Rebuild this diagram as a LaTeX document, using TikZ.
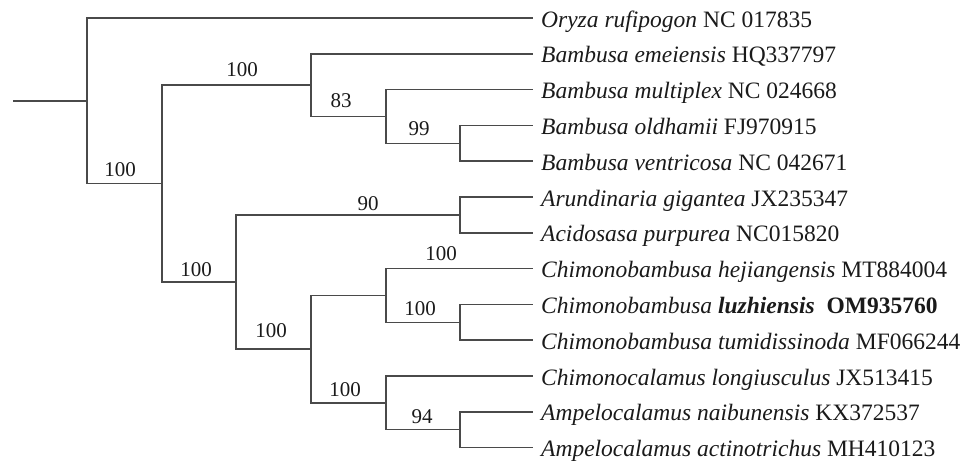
\documentclass[tikz,border=0pt]{standalone}
\usepackage{fontspec}
\setmainfont{Liberation Serif}
\definecolor{linegray}{HTML}{4A4A4A}
\definecolor{textblack}{HTML}{1A1A1A}
\begin{document}
\begin{tikzpicture}[x=1pt,y=-1pt,
  leaf/.style={anchor=west, inner xsep=8pt, inner ysep=0pt, text height=18pt, text depth=0pt,
    text=textblack, font=\fontsize{23.5}{28}\selectfont},
  bs/.style={anchor=base, inner sep=0pt, text=textblack, font=\fontsize{21}{25}\selectfont},
  edge/.style={draw=linegray, line width=1.5pt}]
\useasboundingbox (0,0) rectangle (969,464);
% leaves
\node[leaf] (l0)  at (533,18)    {\textit{Oryza rufipogon} NC 017835};
\node[leaf] (l1)  at (533,53.8)  {\textit{Bambusa emeiensis} HQ337797};
\node[leaf] (l2)  at (533,89.6)  {\textit{Bambusa multiplex} NC 024668};
\node[leaf] (l3)  at (533,125.4) {\textit{Bambusa oldhamii} FJ970915};
\node[leaf] (l4)  at (533,161.2) {\textit{Bambusa ventricosa} NC 042671};
\node[leaf] (l5)  at (533,197)   {\textit{Arundinaria gigantea} JX235347};
\node[leaf] (l6)  at (533,232.8) {\textit{Acidosasa purpurea} NC015820};
\node[leaf] (l7)  at (533,268.6) {\textit{Chimonobambusa hejiangensis} MT884004};
\node[leaf] (l8)  at (533,304.4) {\textit{Chimonobambusa \textbf{luzhiensis}}\ \ \textbf{OM935760}};
\node[leaf] (l9)  at (533,340.2) {\textit{Chimonobambusa tumidissinoda} MF066244};
\node[leaf] (l10) at (533,376)   {\textit{Chimonocalamus longiusculus} JX513415};
\node[leaf] (l11) at (533,411.8) {\textit{Ampelocalamus naibunensis} KX372537};
\node[leaf] (l12) at (533,447.6) {\textit{Ampelocalamus actinotrichus} MH410123};
% internal nodes
\coordinate (nOld) at (460,143.3);
\coordinate (nMul) at (386,116.45);
\coordinate (nBam) at (311,85.1);
\coordinate (nAru) at (460,214.9);
\coordinate (nLuz) at (460,322.3);
\coordinate (nChi) at (386,295.45);
\coordinate (nNai) at (460,429.7);
\coordinate (nCal) at (386,402.85);
\coordinate (nC)   at (311,349.15);
\coordinate (nB)   at (236,282.0);
\coordinate (nA)   at (162,183.55);
\coordinate (nR)   at (87,100.8);
\coordinate (stub) at (13,100.8);
% edges
\draw[edge] (stub) -- (nR);
\draw[edge] (nR) |- (l0.west);   \draw[edge] (nR) |- (nA);
\draw[edge] (nA) |- (nBam);      \draw[edge] (nA) |- (nB);
\draw[edge] (nBam) |- (l1.west); \draw[edge] (nBam) |- (nMul);
\draw[edge] (nMul) |- (l2.west); \draw[edge] (nMul) |- (nOld);
\draw[edge] (nOld) |- (l3.west); \draw[edge] (nOld) |- (l4.west);
\draw[edge] (nB) |- (nAru);      \draw[edge] (nB) |- (nC);
\draw[edge] (nAru) |- (l5.west); \draw[edge] (nAru) |- (l6.west);
\draw[edge] (nC) |- (nChi);      \draw[edge] (nC) |- (nCal);
\draw[edge] (nChi) |- (l7.west); \draw[edge] (nChi) |- (nLuz);
\draw[edge] (nLuz) |- (l8.west); \draw[edge] (nLuz) |- (l9.west);
\draw[edge] (nCal) |- (l10.west);\draw[edge] (nCal) |- (nNai);
\draw[edge] (nNai) |- (l11.west);\draw[edge] (nNai) |- (l12.west);
% bootstrap values
\node[bs] (bBam) at (242,76.7)  {100};
\node[bs] (bA)   at (120,176.7) {100};
\node[bs] (bMul) at (341,107.3) {83};
\node[bs] (bOld) at (419,135)   {99};
\node[bs] (bAru) at (368,210)   {90};
\node[bs] (bB)   at (196,276.7) {100};
\node[bs] (bC)   at (271,337.3) {100};
\node[bs] (bChi) at (441,260.7) {100};
\node[bs] (bLuz) at (420,315)   {100};
\node[bs] (bCal) at (345,396.7) {100};
\node[bs] (bNai) at (422,423.3) {94};
\end{tikzpicture}
\end{document}
